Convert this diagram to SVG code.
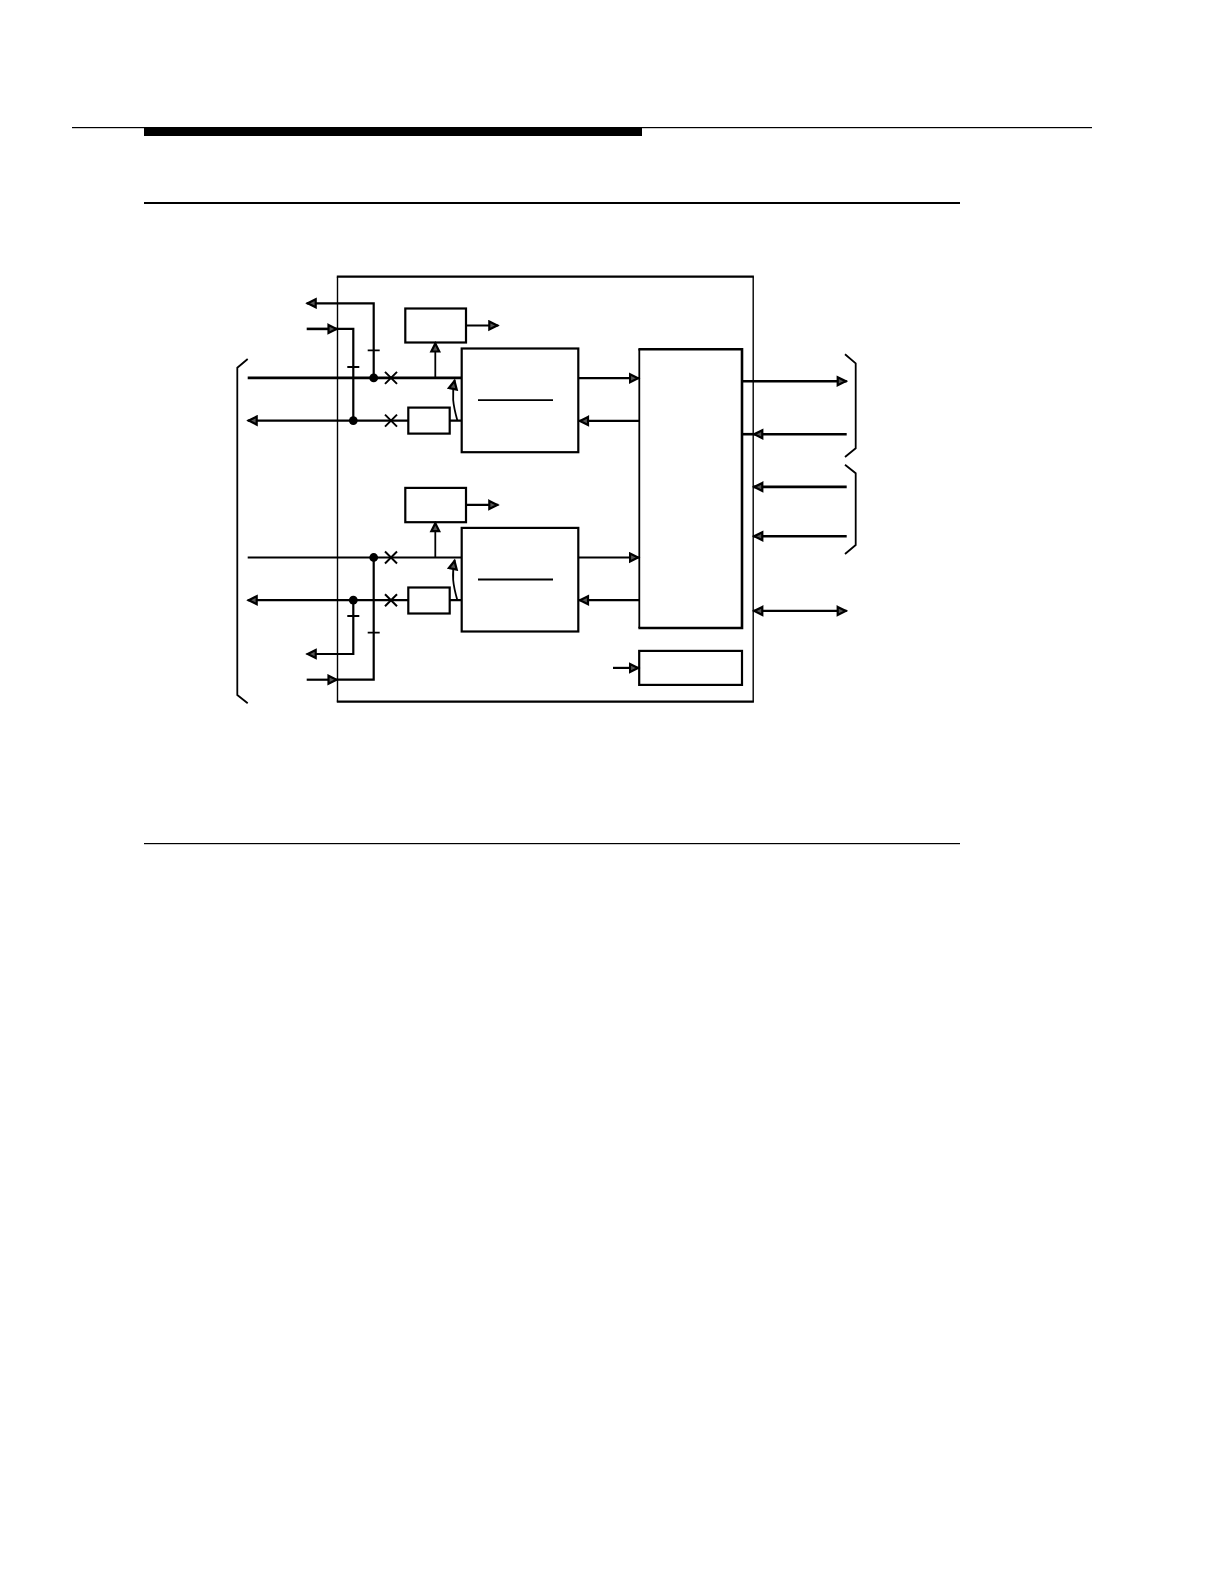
<svg xmlns="http://www.w3.org/2000/svg" width="1224" height="1584" viewBox="0 0 1224 1584">
<style>
.b{fill:none;stroke:#000;stroke-width:2.2}
.t{fill:none;stroke:#000;stroke-width:1.8}
.x{fill:none;stroke:#000;stroke-width:2}
.w{fill:none;stroke:#000;stroke-width:2.6}
.ah{marker-end:url(#a)}
.as{marker-start:url(#s)}
</style>
<defs>
<marker id="a" markerUnits="userSpaceOnUse" markerWidth="12" markerHeight="12" refX="10.5" refY="6" orient="auto"><path d="M1.5 2L9.5 6L1.5 10Z" fill="#555" stroke="#000" stroke-width="2.2"/></marker>
<marker id="s" markerUnits="userSpaceOnUse" markerWidth="12" markerHeight="12" refX="1.5" refY="6" orient="auto"><path d="M10.5 2L2.5 6L10.5 10Z" fill="#555" stroke="#000" stroke-width="2.2"/></marker>
</defs>
<rect width="1224" height="1584" fill="#fff"/>
<g id="page-rules">
<rect x="72" y="127" width="1020" height="1.2" fill="#000"/>
<rect x="144" y="127" width="498" height="9" fill="#000"/>
<rect x="144" y="202" width="816" height="2" fill="#000"/>
<rect x="144" y="843" width="816" height="1.2" fill="#000"/>
</g>
<g id="outer-box"><path fill="none" stroke="#000" stroke-width="1.4" d="M337.5 276.7V701.7M753.2 276.7V701.7"/><path fill="none" stroke="#000" stroke-width="2.2" d="M336.8 276.7H753.9M336.8 701.7H753.9"/></g>
<g id="left-brace"><path class="t" d="M247.7 359L237.3 367.7V695L247.7 703.3"/></g>
<g id="right-brace-1"><path class="t" d="M845 354.3L855.7 363.3V448.3L845 457"/></g>
<g id="right-brace-2"><path class="t" d="M845 464.7L855.7 473.3V545L845 554"/></g>
<g id="monitor-1"><rect class="b" x="405.3" y="308.5" width="60.7" height="34"/></g>
<g id="monitor-2"><rect class="b" x="405.3" y="487.9" width="60.7" height="34.3"/></g>
<g id="amp-1"><rect class="b" x="408.3" y="407.6" width="41.4" height="26"/></g>
<g id="amp-2"><rect class="b" x="408.3" y="587.5" width="41.4" height="26"/></g>
<g id="unit-1"><rect class="b" x="461.7" y="348.5" width="116.6" height="103.7"/><path class="t" d="M478 400.2H553"/></g>
<g id="unit-2"><rect class="b" x="461.7" y="527.9" width="116.6" height="103.6"/><path class="t" d="M478 579.5H553"/></g>
<g id="matrix"><path fill="none" stroke="#000" stroke-width="1.8" d="M639.3 349V628"/><path fill="none" stroke="#000" stroke-width="2.6" d="M638.4 349.2H742V628H638.4"/></g>
<g id="clock-unit"><rect class="b" x="639.2" y="650.9" width="102.8" height="34"/></g>
<g id="connectors">
<path class="w" d="M247.7 377.9H461.3"/>
<path class="b" d="M247.7 557.5H461.3"/>
<path class="b as" d="M247.7 420.6H408.3"/>
<path class="b as" d="M247.7 600.2H408.3"/>
<path class="b" d="M449.7 420.6H461.3M449.7 600.2H461.3"/>
<path class="b as" d="M306.7 303.3H373.7V377.9"/>
<path class="w ah" d="M306.7 328.9H337.5"/>
<path class="b" d="M337.5 328.9H353.3V420.6"/>
<path class="b" d="M373.7 557.5V679.7H337.5"/>
<path class="b ah" d="M306.7 679.7H337.5"/>
<path class="b as" d="M306.7 654H353.3V600.2"/>
<path class="t" d="M367.7 350.3H379.7M347.3 367H359.3M367.7 632.7H379.7M347.3 616H359.3"/>
<circle cx="373.7" cy="377.9" r="4.4"/><circle cx="353.3" cy="420.6" r="4.4"/>
<circle cx="373.7" cy="557.5" r="4.4"/><circle cx="353.3" cy="600.2" r="4.4"/>
<path class="x" d="M385 371.9L397 383.9M397 371.9L385 383.9M385 414.6L397 426.6M397 414.6L385 426.6M385 551.5L397 563.5M397 551.5L385 563.5M385 594.2L397 606.2M397 594.2L385 606.2"/>
<path class="t ah" d="M435.3 377.9V342.5"/>
<path class="t ah" d="M435.3 557.5V522.2"/>
<path class="t ah" d="M457.3 420.2C453 405 451.5 395 454.7 380"/>
<path class="t ah" d="M457.3 600C453 585 451.5 575 454.7 560"/>
<path class="b ah" d="M466 325.5H498.3"/>
<path class="b ah" d="M466 504.9H498.3"/>
<path class="b ah" d="M578.3 378.2H639"/>
<path class="b as" d="M579 420.9H639.3"/>
<path class="b ah" d="M578.3 557.5H639"/>
<path class="b as" d="M579 600.2H639.3"/>
<path class="w ah" d="M742 381.2H846.7"/>
<path class="w as" d="M753.3 434.2H846.7"/>
<path class="w" d="M742 434.2H753.3"/>
<path class="w as" d="M753.3 486.9H846.7"/>
<path class="w as" d="M753.3 536.2H846.7"/>
<path class="b as ah" d="M753.3 610.9H846.7"/>
<path class="b ah" d="M613 667.9H639"/>
</g>
</svg>
